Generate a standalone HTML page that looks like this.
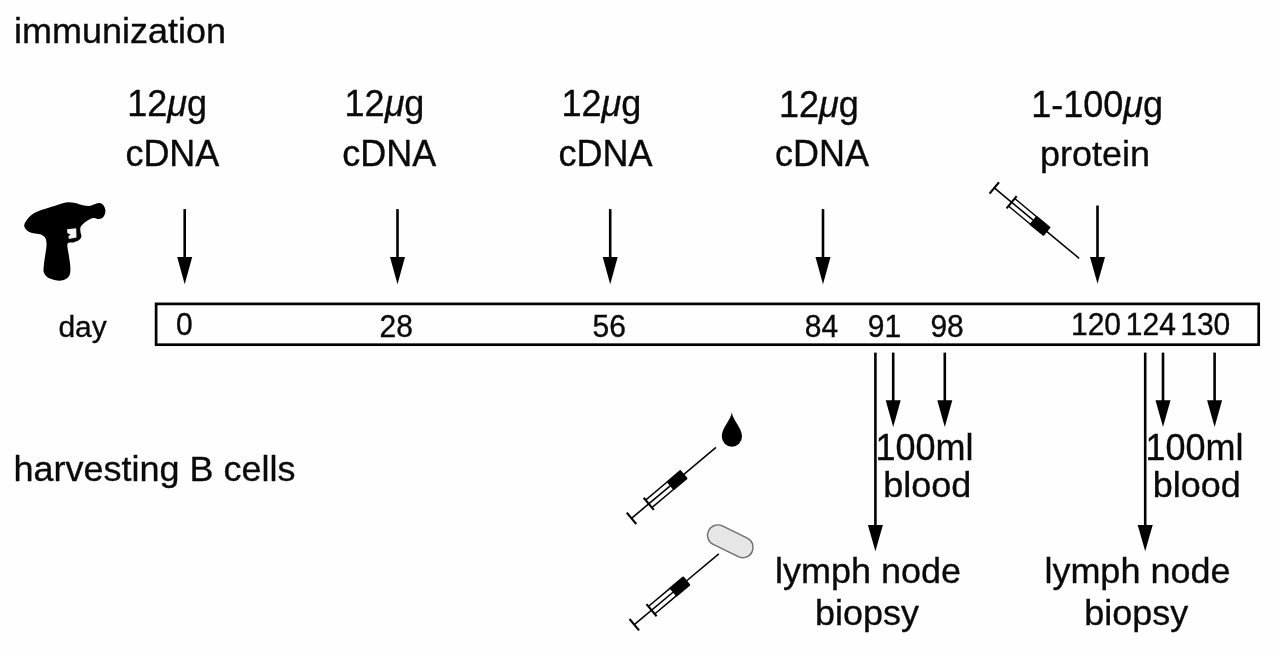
<!DOCTYPE html>
<html><head><meta charset="utf-8"><title>immunization timeline</title>
<style>
html,body{margin:0;padding:0;background:#fff;}
svg{display:block;filter:blur(0.4px);}
text{font-family:"Liberation Sans",sans-serif;fill:#0a0a0a;stroke:#0a0a0a;stroke-width:0.35px;}
</style></head><body>
<svg width="1280" height="654" viewBox="0 0 1280 654">
<rect width="1280" height="654" fill="#fefefe"/>
<!-- gene gun -->
<path d="M 24.2 225.1 C 24.5 222.8 27.4 219.2 29.2 217.1 C 31.0 215.0 33.0 213.8 35.3 212.5 C 37.6 211.2 39.7 210.6 42.9 209.5 C 46.1 208.4 51.2 207.0 54.4 206.0 C 57.6 205.0 59.8 204.2 62.0 203.6 C 64.2 203.0 65.4 202.4 67.6 202.3 C 69.8 202.2 72.8 202.5 75.3 203.0 C 77.8 203.5 80.6 204.8 82.9 205.3 C 85.2 205.8 87.3 206.2 89.1 206.1 C 90.9 206.0 91.9 205.1 93.6 204.6 C 95.2 204.1 97.5 203.0 99.0 203.0 C 100.5 203.0 101.8 203.6 102.8 204.6 C 103.8 205.6 104.7 207.4 105.1 208.8 C 105.5 210.2 105.5 211.8 105.1 213.3 C 104.7 214.8 103.8 216.6 102.8 217.6 C 101.8 218.6 100.4 219.0 99.0 219.1 C 97.6 219.2 95.8 218.0 94.4 217.9 C 93.0 217.8 92.1 218.0 90.6 218.7 C 89.1 219.4 86.9 220.7 85.2 222.1 C 83.5 223.5 81.4 225.4 80.6 227.1 C 79.8 228.8 80.5 231.0 80.6 232.5 C 80.7 234.0 81.7 235.0 81.4 236.3 C 81.2 237.6 80.4 239.1 79.1 240.1 C 77.8 241.1 75.7 241.8 73.8 242.4 C 71.9 243.0 68.5 241.9 67.6 243.7 C 66.7 245.5 68.1 250.2 68.5 253.3 C 68.9 256.4 69.6 259.7 69.9 262.5 C 70.2 265.3 70.5 267.8 70.4 269.9 C 70.3 272.0 70.2 273.9 69.4 275.4 C 68.6 276.9 67.5 278.1 65.8 279.0 C 64.1 279.9 61.5 280.6 59.4 280.7 C 57.2 280.8 54.9 280.1 52.9 279.5 C 50.9 278.9 48.9 278.3 47.4 277.2 C 45.9 276.1 44.4 274.4 43.8 272.6 C 43.2 270.8 43.6 268.9 43.8 266.2 C 44.0 263.4 44.6 259.5 45.1 256.1 C 45.6 252.7 46.4 248.9 46.5 246.0 C 46.6 243.1 46.5 240.4 45.6 238.5 C 44.8 236.6 43.1 235.5 41.4 234.7 C 39.7 233.9 37.6 234.2 35.3 233.6 C 33.0 233.0 29.5 232.3 27.6 230.9 C 25.8 229.5 23.9 227.4 24.2 225.1 Z" fill="#000"/>
<path d="M67 229.2L76.2 228.3L76.5 237.5L68.9 239L68.4 236.2L70.6 234.6L67.4 233.2Z" fill="#f4f4f4"/>
<!-- timeline box -->
<rect x="156.1" y="303.9" width="1102.6" height="40.8" fill="none" stroke="#000" stroke-width="2.7"/>
<!-- arrows -->
<path d="M184.7 209.1V258.0" stroke="#000" stroke-width="2.6" fill="none"/><path d="M177.2 257.0H192.2L184.7 284.2Z" fill="#000"/>
<path d="M397.5 209.1V258.0" stroke="#000" stroke-width="2.6" fill="none"/><path d="M390.0 257.0H405.0L397.5 284.2Z" fill="#000"/>
<path d="M610.2 209.1V258.0" stroke="#000" stroke-width="2.6" fill="none"/><path d="M602.7 257.0H617.7L610.2 284.2Z" fill="#000"/>
<path d="M823.0 209.1V258.0" stroke="#000" stroke-width="2.6" fill="none"/><path d="M815.5 257.0H830.5L823.0 284.2Z" fill="#000"/>
<path d="M1097.5 205.5V258.0" stroke="#000" stroke-width="2.6" fill="none"/><path d="M1090.0 257.0H1105.0L1097.5 283.8Z" fill="#000"/>
<path d="M875.4 352.6V526.0" stroke="#000" stroke-width="2.6" fill="none"/><path d="M867.9 525.0H882.9L875.4 551.2Z" fill="#000"/>
<path d="M893.2 352.6V401.3" stroke="#000" stroke-width="2.6" fill="none"/><path d="M885.7 400.3H900.7L893.2 427.0Z" fill="#000"/>
<path d="M944.8 352.6V401.3" stroke="#000" stroke-width="2.6" fill="none"/><path d="M937.3 400.3H952.3L944.8 427.0Z" fill="#000"/>
<path d="M1145.2 352.6V526.0" stroke="#000" stroke-width="2.6" fill="none"/><path d="M1137.7 525.0H1152.7L1145.2 551.2Z" fill="#000"/>
<path d="M1163.0 352.6V401.3" stroke="#000" stroke-width="2.6" fill="none"/><path d="M1155.5 400.3H1170.5L1163.0 427.0Z" fill="#000"/>
<path d="M1214.6 352.6V401.3" stroke="#000" stroke-width="2.6" fill="none"/><path d="M1207.1 400.3H1222.1L1214.6 427.0Z" fill="#000"/>
<!-- syringes -->
<g transform="translate(994.3 187.9) rotate(39.7)" stroke="#000" stroke-width="1.7" fill="none" stroke-linecap="butt">
<path d="M0 -7.4V7.4" stroke-width="2.1"/>
<path d="M0 0H50.5" stroke-width="1.6"/>
<path d="M22.5 -7.9V7.9" stroke-width="2.1"/>
<path d="M22.5 -4.9H51M22.5 4.9H51" stroke-width="1.5"/>
<rect x="50.3" y="-5.8" width="18.4" height="11.6" rx="1" fill="#000" stroke="none"/>
<path d="M68 0H110.3" stroke-width="1.5"/>
</g>
<g transform="translate(631.5 518.3) rotate(-40)" stroke="#000" stroke-width="1.7" fill="none" stroke-linecap="butt">
<path d="M0 -7.4V7.4" stroke-width="2.1"/>
<path d="M0 0H50.5" stroke-width="1.6"/>
<path d="M22.5 -7.9V7.9" stroke-width="2.1"/>
<path d="M22.5 -4.9H51M22.5 4.9H51" stroke-width="1.5"/>
<rect x="50.3" y="-5.8" width="18.4" height="11.6" rx="1" fill="#000" stroke="none"/>
<path d="M68 0H110.3" stroke-width="1.5"/>
</g>
<g transform="translate(634.3 624.7) rotate(-40)" stroke="#000" stroke-width="1.7" fill="none" stroke-linecap="butt">
<path d="M0 -7.4V7.4" stroke-width="2.1"/>
<path d="M0 0H50.5" stroke-width="1.6"/>
<path d="M22.5 -7.9V7.9" stroke-width="2.1"/>
<path d="M22.5 -4.9H51M22.5 4.9H51" stroke-width="1.5"/>
<rect x="50.3" y="-5.8" width="18.4" height="11.6" rx="1" fill="#000" stroke="none"/>
<path d="M68 0H110.3" stroke-width="1.5"/>
</g>
<!-- blood drop -->
<path d="M731.8 412.3C732.6 420 742 427.5 742 436.6A10.1 10.1 0 1 1 721.8 436.6C721.8 427.5 731 420 731.8 412.3Z" fill="#000"/>
<!-- lymph node -->
<rect x="-24.2" y="-10.3" width="48.4" height="20.6" rx="10.3" ry="10.3" transform="translate(730.3 541.3) rotate(26)" fill="#e6e6e6" stroke="#6e6e6e" stroke-width="1.4"/>
<!-- text -->
<text transform="translate(14.0 43.0) scale(1 0.97)" font-size="36">immunization</text>
<text transform="translate(13.4 481.0) scale(1 0.97)" font-size="36">harvesting B cells</text>
<text transform="translate(127.3 115.9) scale(1 1.02)" font-size="36">12<tspan font-style="italic">μ</tspan>g</text>
<text transform="translate(125.4 165.6) scale(1 1.045)" font-size="36">cDNA</text>
<text transform="translate(344.6 115.9) scale(1 1.02)" font-size="36">12<tspan font-style="italic">μ</tspan>g</text>
<text transform="translate(342.3 165.6) scale(1 1.045)" font-size="36">cDNA</text>
<text transform="translate(561.5 115.9) scale(1 1.02)" font-size="36">12<tspan font-style="italic">μ</tspan>g</text>
<text transform="translate(558.5 165.6) scale(1 1.045)" font-size="36">cDNA</text>
<text transform="translate(778.9 116.7) scale(1 1.02)" font-size="36">12<tspan font-style="italic">μ</tspan>g</text>
<text transform="translate(775.0 166.4) scale(1 1.045)" font-size="36">cDNA</text>
<text transform="translate(1031.2 117.2) scale(1 1.02)" font-size="36">1-100<tspan font-style="italic">μ</tspan>g</text>
<text transform="translate(1040.0 166.4) scale(1 0.97)" font-size="36">protein</text>
<text transform="translate(58.4 337.1) scale(1 0.97)" font-size="30">day</text>
<text transform="translate(176.1 335.3) scale(1 1.045)" font-size="30">0</text>
<text transform="translate(379.5 336.7) scale(1 1.045)" font-size="30">28</text>
<text transform="translate(592.5 336.7) scale(1 1.045)" font-size="30">56</text>
<text transform="translate(804.8 336.7) scale(1 1.045)" font-size="30">84</text>
<text transform="translate(867.8 336.7) scale(1 1.045)" font-size="30">91</text>
<text transform="translate(930.4 336.7) scale(1 1.045)" font-size="30">98</text>
<text transform="translate(1071.0 335.0) scale(1 1.045)" font-size="30">120</text>
<text transform="translate(1125.8 335.0) scale(1 1.045)" font-size="30">124</text>
<text transform="translate(1180.2 335.0) scale(1 1.045)" font-size="30">130</text>
<text transform="translate(875.4 459.9) scale(1 1)" font-size="36">100ml</text>
<text transform="translate(883.2 497.0) scale(1 0.97)" font-size="36">blood</text>
<text transform="translate(775.0 582.5) scale(1 0.97)" font-size="36">lymph node</text>
<text transform="translate(814.9 625.3) scale(1 0.97)" font-size="36">biopsy</text>
<text transform="translate(1145.5 459.9) scale(1 1)" font-size="36">100ml</text>
<text transform="translate(1152.7 497.0) scale(1 0.97)" font-size="36">blood</text>
<text transform="translate(1044.4 582.5) scale(1 0.97)" font-size="36">lymph node</text>
<text transform="translate(1084.3 625.3) scale(1 0.97)" font-size="36">biopsy</text>
</svg>
</body></html>
